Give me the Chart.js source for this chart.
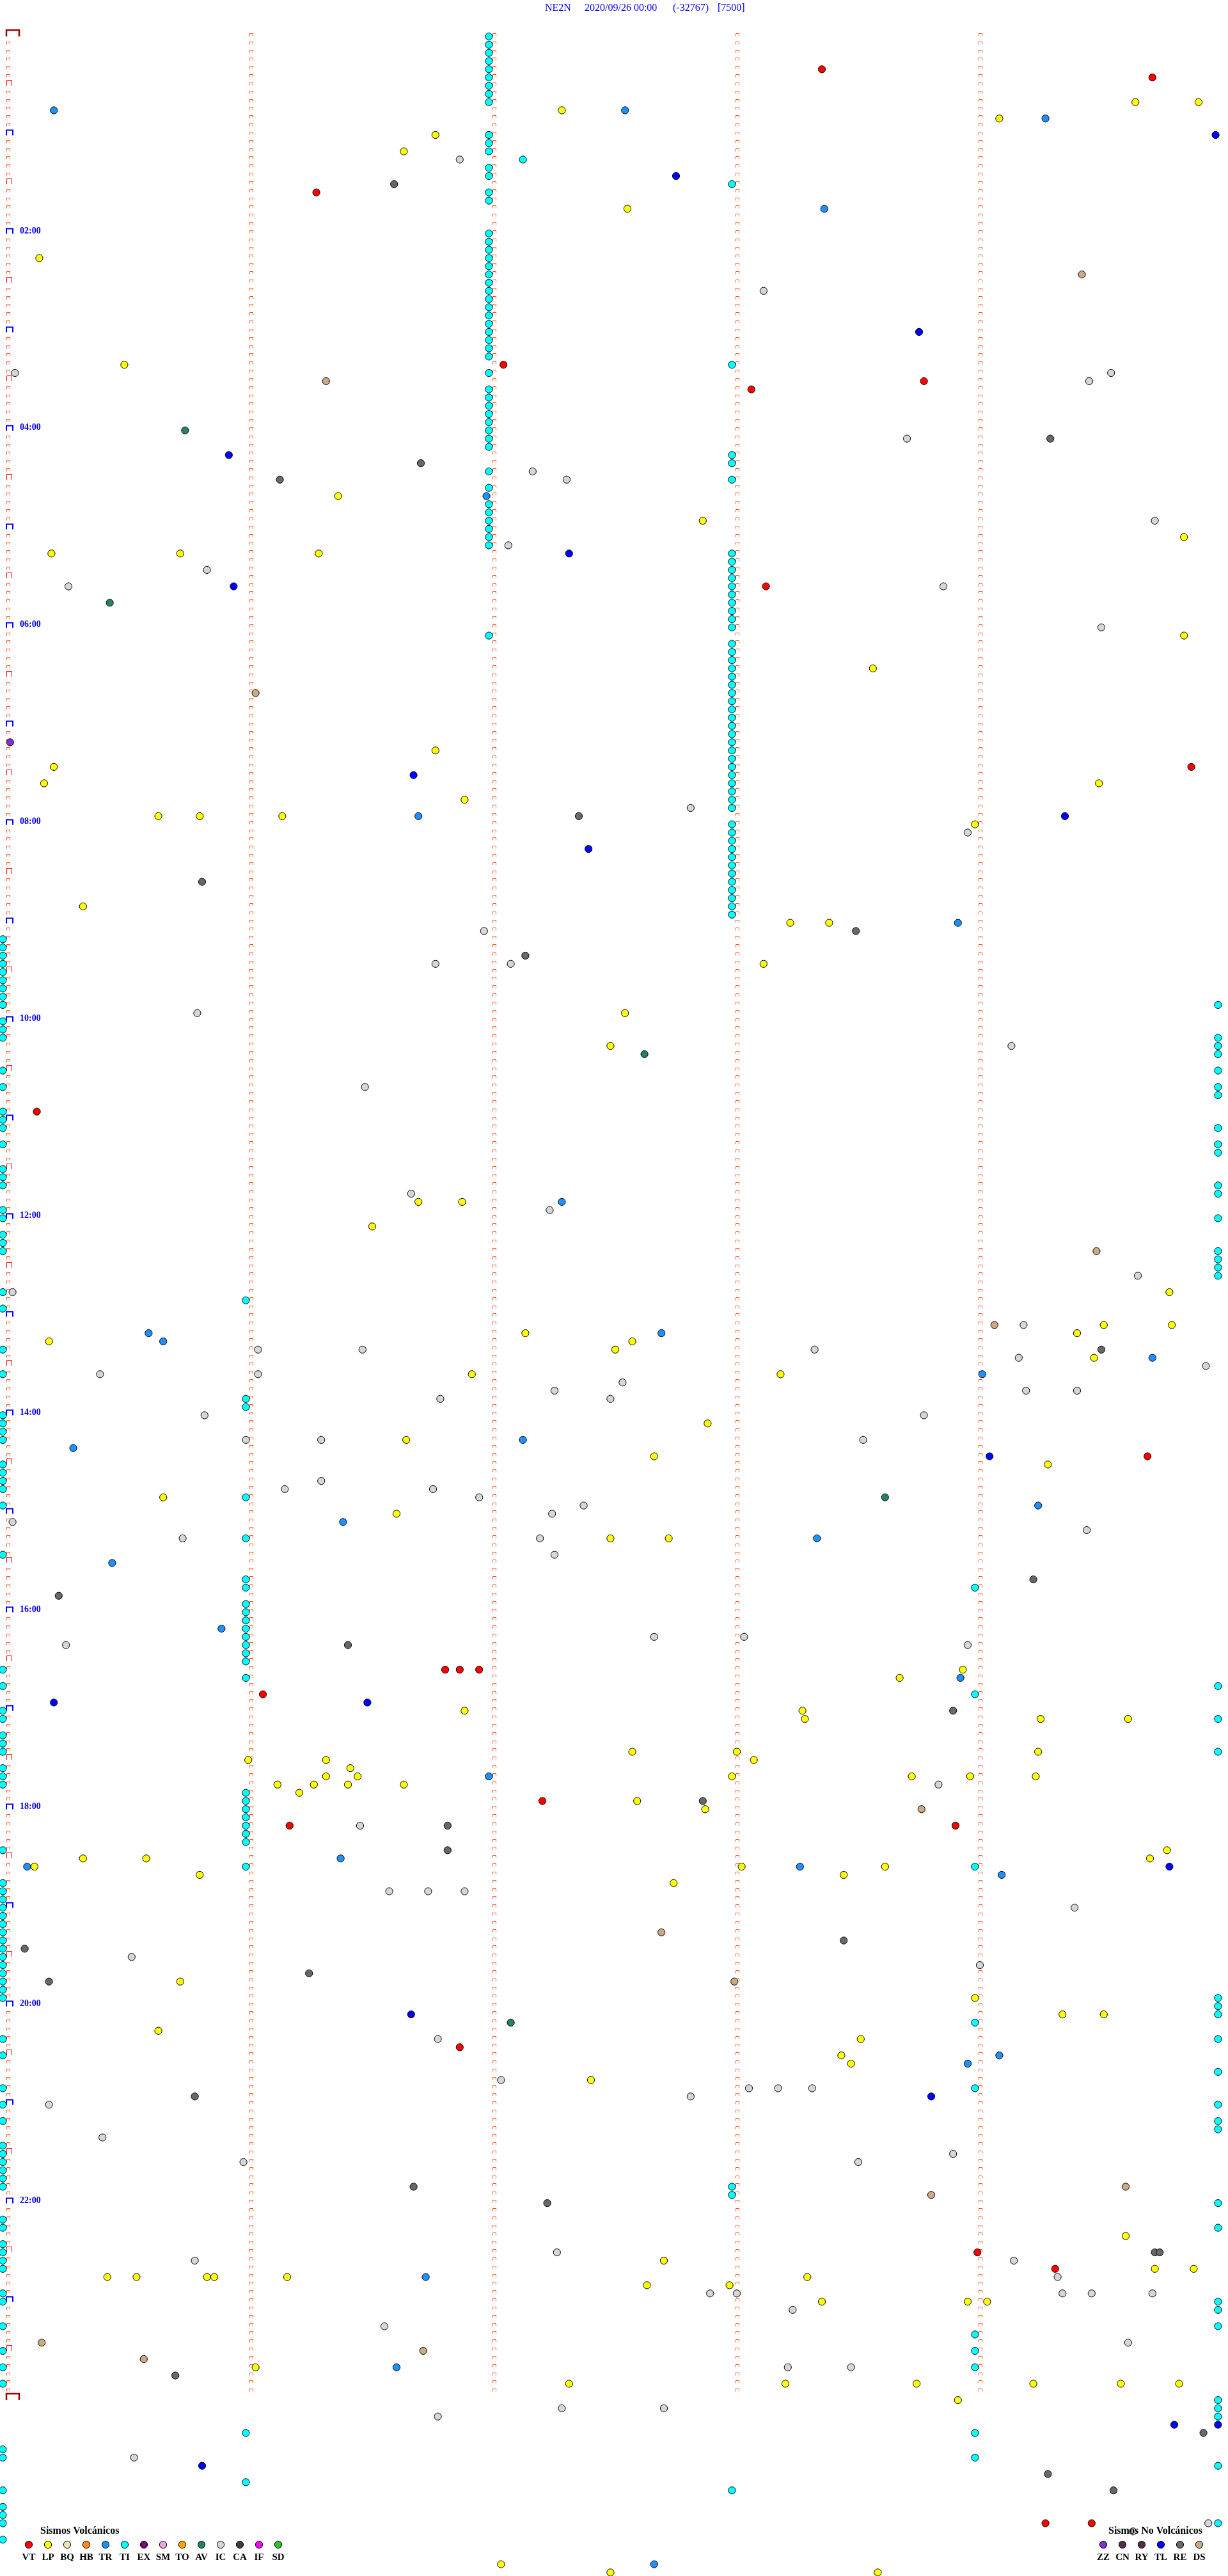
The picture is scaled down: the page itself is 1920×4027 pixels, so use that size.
<!DOCTYPE html>
<html>
<head>
<meta charset="utf-8">
<title>NE2N 2020/09/26</title>
<script src="https://cdn.jsdelivr.net/npm/chart.js@4.4.1/dist/chart.umd.min.js"></script>
<style>
  html, body { margin: 0; padding: 0; background: #fff; }
  canvas { display: block; }
</style>
</head>
<body>
<canvas id="heli" width="1920" height="4027"></canvas>
<script>
// cabecera del helicorder
const titleParts = ['NE2N', '2020/09/26 00:00', '(-32767)', '[7500]'];

// 24 horas, una linea cada 5 minutos
const lineCount = 288;
const minuteMarks = [0, 1, 2, 3, 4];
const hourLabels = ['02:00', '04:00', '06:00', '08:00', '10:00', '12:00', '14:00', '16:00', '18:00', '20:00', '22:00'];

const volcTypes = ['VT', 'LP', 'BQ', 'HB', 'TR', 'TI', 'EX', 'SM', 'TO', 'AV', 'IC', 'CA', 'IF', 'SD'];
const noVolcTypes = ['ZZ', 'CN', 'RY', 'TL', 'RE', 'DS'];

// eventos: [linea, minuto dentro de la linea]
const TI = [
  [0,1.98],[1,1.98],[2,1.98],[3,1.98],[4,1.98],[5,1.98],[6,1.98],[7,1.98],[8,1.98],[12,1.98],[13,1.98],[14,1.98],
  [16,1.98],[17,1.98],[19,1.98],[20,1.98],[24,1.98],[25,1.98],[26,1.98],[27,1.98],[28,1.98],[29,1.98],[30,1.98],
  [31,1.98],[32,1.98],[33,1.98],[34,1.98],[35,1.98],[36,1.98],[37,1.98],[38,1.98],[39,1.98],[41,1.98],[43,1.98],
  [44,1.98],[45,1.98],[46,1.98],[47,1.98],[48,1.98],[49,1.98],[50,1.98],[53,1.98],[55,1.98],[57,1.98],[58,1.98],
  [59,1.98],[60,1.98],[61,1.98],[62,1.98],[73,1.98],[15,2.12],
  [18,2.98],[40,2.98],[51,2.98],[52,2.98],[54,2.98],[63,2.98],[64,2.98],[65,2.98],[66,2.98],[67,2.98],[68,2.98],
  [69,2.98],[70,2.98],[71,2.98],[72,2.98],[74,2.98],[75,2.98],[76,2.98],[77,2.98],[78,2.98],[79,2.98],[80,2.98],
  [81,2.98],[82,2.98],[83,2.98],[84,2.98],[85,2.98],[86,2.98],[87,2.98],[88,2.98],[89,2.98],[90,2.98],[91,2.98],
  [92,2.98],[93,2.98],[94,2.98],[96,2.98],[97,2.98],[98,2.98],[99,2.98],[100,2.98],[101,2.98],[102,2.98],[103,2.98],
  [104,2.98],[105,2.98],[106,2.98],[107,2.98],[262,2.98],[263,2.98],[299,2.98],
  [110,-0.02],[111,-0.02],[112,-0.02],[113,-0.02],[114,-0.02],[115,-0.02],[116,-0.02],[117,-0.02],[118,-0.02],
  [120,-0.02],[121,-0.02],[122,-0.02],[126,-0.02],[128,-0.02],[131,-0.02],[132,-0.02],[133,-0.02],[135,-0.02],
  [138,-0.02],[139,-0.02],[140,-0.02],[143,-0.02],[144,-0.02],[146,-0.02],[147,-0.02],[148,-0.02],[153,-0.02],
  [155,-0.02],[160,-0.02],[163,-0.02],[168,-0.02],[169,-0.02],[170,-0.02],[171,-0.02],[174,-0.02],[175,-0.02],
  [176,-0.02],[177,-0.02],[179,-0.02],[185,-0.02],[199,-0.02],[201,-0.02],[204,-0.02],[205,-0.02],[207,-0.02],
  [208,-0.02],[209,-0.02],[211,-0.02],[212,-0.02],[213,-0.02],[221,-0.02],[225,-0.02],[226,-0.02],[227,-0.02],
  [228,-0.02],[229,-0.02],[230,-0.02],[231,-0.02],[232,-0.02],[233,-0.02],[234,-0.02],[235,-0.02],[236,-0.02],
  [237,-0.02],[238,-0.02],[239,-0.02],[244,-0.02],[246,-0.02],[250,-0.02],[252,-0.02],[254,-0.02],[257,-0.02],
  [258,-0.02],[259,-0.02],[260,-0.02],[261,-0.02],[262,-0.02],[266,-0.02],[267,-0.02],[269,-0.02],[270,-0.02],
  [271,-0.02],[272,-0.02],[275,-0.02],[276,-0.02],[279,-0.02],[282,-0.02],[284,-0.02],[286,-0.02],[294,-0.02],
  [295,-0.02],[299,-0.02],[301,-0.02],[302,-0.02],[303,-0.02],[305,-0.02],
  [154,0.98],[166,0.98],[167,0.98],[178,0.98],[183,0.98],[188,0.98],[189,0.98],[191,0.98],[192,0.98],[193,0.98],
  [194,0.98],[195,0.98],[196,0.98],[197,0.98],[198,0.98],[200,0.98],[214,0.98],[215,0.98],[216,0.98],[217,0.98],
  [218,0.98],[219,0.98],[220,0.98],[223,0.98],[292,0.98],[298,0.98],
  [189,3.98],[202,3.98],[223,3.98],[242,3.98],[250,3.98],[280,3.98],[282,3.98],[284,3.98],[292,3.98],[295,3.98],
  [118,4.98],[122,4.98],[123,4.98],[124,4.98],[126,4.98],[128,4.98],[129,4.98],[133,4.98],[135,4.98],[136,4.98],
  [140,4.98],[141,4.98],[144,4.98],[148,4.98],[149,4.98],[150,4.98],[151,4.98],[201,4.98],[205,4.98],[209,4.98],
  [239,4.98],[240,4.98],[241,4.98],[244,4.98],[248,4.98],[252,4.98],[254,4.98],[255,4.98],[264,4.98],[267,4.98],
  [276,4.98],[277,4.98],[279,4.98],[288,4.98],[289,4.98],[290,4.98],[296,4.98],[303,4.98]
];

const IC = [
  [15,1.86],[31,3.11],[41,0.03],[41,4.54],[42,4.45],[49,3.70],[53,2.16],[54,2.30],[59,4.72],[62,2.06],[65,0.82],
  [67,0.25],[67,3.85],[72,4.50],[94,2.81],[97,3.95],[109,1.96],[113,1.76],[113,2.07],[119,0.78],[123,4.13],
  [128,1.47],[141,1.66],[143,2.23],[151,4.65],[153,0.02],[157,4.18],[160,1.03],[160,1.46],[160,3.32],[161,4.16],
  [162,4.93],[163,0.38],[163,1.03],[164,2.53],[165,2.25],[165,4.19],[165,4.40],[166,1.78],[166,2.48],[168,0.81],
  [168,3.77],[171,0.98],[171,1.29],[171,3.52],[176,1.29],[177,1.14],[177,1.75],[178,1.94],[179,2.37],[180,2.24],
  [181,0.02],[182,4.44],[183,0.72],[183,2.19],[185,2.25],[195,2.66],[195,3.03],[196,0.24],[196,3.95],[213,3.83],
  [218,1.45],[226,1.57],[226,1.73],[226,1.88],[228,4.39],[234,0.51],[235,4.00],[244,1.77],[249,2.03],[250,3.05],
  [250,3.17],[250,3.31],[251,2.81],[252,0.17],[256,0.39],[258,3.89],[259,0.97],[259,3.50],[270,2.26],[271,0.77],
  [271,4.14],[273,4.32],[275,2.89],[275,3.00],[275,4.34],[275,4.46],[275,4.71],[277,3.23],[279,1.55],[281,4.61],
  [284,3.21],[284,3.47],[289,2.28],[289,2.70],[290,1.77],[295,0.52],[303,4.94],[304,4.63]
];

const RE = [
  [18,1.59],[49,4.29],[52,1.70],[54,1.12],[95,2.35],[103,0.80],[109,3.49],[112,2.13],[160,4.50],[188,4.22],
  [190,0.21],[196,1.40],[204,3.89],[215,2.86],[218,1.81],[221,1.81],[232,3.44],[233,0.07],[236,1.24],[237,0.17],
  [251,0.77],[262,1.67],[264,2.22],[270,4.72],[270,4.74],[285,0.69],[292,4.92],[297,4.28],[299,4.55]
];

const DS = [
  [29,4.42],[42,1.31],[80,1.02],[148,4.48],[157,4.06],[216,3.76],[231,2.69],[237,2.99],[262,4.60],[263,3.80],
  [281,0.14],[282,1.71],[283,0.56]
];

const AV = [[48,0.73],[69,0.42],[124,2.62],[178,3.61],[242,2.07]];

const LP = [
  [8,4.64],[8,4.90],[9,2.28],[10,4.08],[12,1.76],[14,1.63],[21,2.55],[27,0.13],[40,0.48],[56,1.36],[59,2.86],
  [61,4.84],[63,0.18],[63,0.71],[63,1.28],[73,4.84],[77,3.56],[87,1.76],[89,0.19],[91,0.15],[91,4.49],[93,1.88],
  [95,0.62],[95,0.79],[95,1.13],[96,3.98],[106,0.31],[108,3.22],[108,3.38],[113,3.11],[119,2.54],[123,2.48],
  [142,1.69],[142,1.87],[145,1.50],[153,4.78],[157,4.51],[157,4.79],[158,4.40],[158,2.13],[159,0.17],[159,2.57],
  [160,2.50],[161,4.47],[163,1.91],[163,3.18],[169,2.88],[171,1.64],[173,2.66],[174,4.28],[178,0.64],[180,1.60],
  [183,2.48],[183,2.72],[199,3.93],[200,3.67],[204,1.88],[204,3.27],[205,3.28],[205,4.25],[205,4.61],[209,2.57],
  [209,3.00],[209,4.24],[210,0.99],[210,1.31],[210,3.07],[211,1.41],[212,1.31],[212,1.44],[212,2.98],[212,3.72],
  [212,3.96],[212,4.23],[213,1.11],[213,1.26],[213,1.40],[213,1.63],[214,1.20],[215,2.59],[216,2.87],[221,4.77],
  [222,0.31],[222,0.57],[222,4.70],[223,0.11],[223,3.02],[223,3.61],[224,0.79],[224,3.44],[225,2.74],[237,0.71],
  [239,3.98],[241,4.34],[241,4.51],[243,0.62],[244,3.51],[246,3.43],[247,3.47],[249,2.40],[268,4.60],[271,2.70],
  [272,4.72],[272,4.88],[273,0.41],[273,0.53],[273,0.82],[273,0.85],[273,1.15],[273,3.29],[274,2.63],[274,2.97],
  [276,3.35],[276,3.95],[276,4.03],[284,1.02],[286,2.31],[286,3.20],[286,3.74],[286,4.22],[286,4.58],[286,4.82],
  [288,3.91],[308,2.03],[309,2.48],[309,3.58]
];

const TR = [
  [9,0.19],[9,2.54],[10,4.27],[21,3.36],[56,1.97],[95,1.69],[108,3.91],[142,2.28],[158,0.58],[158,2.69],
  [159,0.64],[161,4.71],[163,4.01],[171,2.12],[172,0.27],[179,4.24],[181,1.38],[183,3.33],[186,0.43],[194,0.88],
  [200,3.92],[212,1.98],[222,1.37],[223,0.08],[223,3.26],[224,4.09],[246,4.08],[247,3.95],[273,1.72],[284,1.60],
  [308,2.66]
];

const TL = [
  [12,4.97],[17,2.75],[36,3.75],[51,0.91],[63,2.31],[67,0.93],[90,1.67],[95,4.35],[99,2.39],[173,4.04],
  [203,0.19],[203,1.48],[223,4.78],[241,1.66],[251,3.80],[291,4.80],[291,4.98],[296,0.80]
];

const VT = [
  [4,3.35],[5,4.71],[19,1.27],[40,2.04],[42,3.77],[43,3.06],[67,3.12],[89,4.87],[131,0.12],[173,4.69],
  [199,1.80],[199,1.86],[199,1.94],[202,1.05],[215,2.20],[218,1.16],[218,3.90],[245,1.86],[270,3.99],
  [272,4.31],[303,4.27],[303,4.46]
];

const ZZ = [[86,0.01]];

const typeColors = {
  VT: '#ff0000', LP: '#ffff00', BQ: '#eee8aa', HB: '#ff8a1e', TR: '#1e90ff', TI: '#00ffff', EX: '#800080',
  SM: '#eea2e2', TO: '#ffa500', AV: '#2a8060', IC: '#d6d6d6', CA: '#4e3050', IF: '#ff00ff', SD: '#33c033',
  ZZ: '#8030d0', CN: '#4e3050', RY: '#552a4a', TL: '#0000ff', RE: '#686868', DS: '#c8aa84'
};

const events = { TI, IC, RE, DS, AV, LP, TR, TL, VT, ZZ };

// geometria de la pagina
const W = 1920, H = 4027;
const x0 = 12, pxPerMin = 380;
const y0 = 57, pxPerLine = 12.83;
const serif = '"Liberation Serif", "Times New Roman", serif';

const datasets = Object.keys(events).map(function(t) {
  return {
    label: t,
    data: events[t].map(function(e) { return { x: e[1], y: e[0] }; }),
    backgroundColor: typeColors[t],
    borderColor: '#000',
    borderWidth: 1,
    pointRadius: 5.6,
    clip: false
  };
});

function dot(ctx, x, y, color) {
  ctx.beginPath();
  ctx.arc(x, y, 5.6, 0, Math.PI * 2);
  ctx.fillStyle = color;
  ctx.fill();
  ctx.lineWidth = 1;
  ctx.strokeStyle = '#000';
  ctx.stroke();
}

function bracket(ctx, left, right, top, bottom, width, color) {
  ctx.beginPath();
  ctx.moveTo(left, bottom);
  ctx.lineTo(left, top);
  ctx.lineTo(right, top);
  ctx.lineTo(right, bottom);
  ctx.lineWidth = width;
  ctx.strokeStyle = color;
  ctx.stroke();
}

// marcas de minuto, media hora y hora
const heliMarks = {
  id: 'heliMarks',
  beforeDatasetsDraw(chart) {
    const ctx = chart.ctx, xs = chart.scales.x, ys = chart.scales.y;
    ctx.save();
    for (let r = 0; r <= lineCount; r++) {
      const py = Math.round(ys.getPixelForValue(r));
      if (r === 0 || r === lineCount) {
        const px = Math.round(xs.getPixelForValue(0));
        bracket(ctx, px - 2, px + 18, py - 10, py, 2.5, '#a00000');
        if (r === lineCount) continue;
      }
      minuteMarks.forEach(function(m) {
        const px = Math.round(xs.getPixelForValue(m));
        if (m === 0 && r === 0) return;
        if (m === 0 && r % 12 === 0) {
          bracket(ctx, px - 2, px + 8, py - 7.5, py + 0.5, 2, '#0000ff');
        } else if (m === 0 && r % 12 === 6) {
          bracket(ctx, px - 1.5, px + 6.5, py - 8.5, py, 1, '#ff0000');
        } else {
          bracket(ctx, px - 1.5, px + 3.5, py - 4.5, py - 0.5, 1, '#ff5214');
        }
      });
    }
    ctx.restore();
  },
  afterDatasetsDraw(chart) {
    const ctx = chart.ctx, xs = chart.scales.x, ys = chart.scales.y;
    ctx.save();
    ctx.textBaseline = 'middle';
    ctx.textAlign = 'left';

    // titulo
    ctx.fillStyle = '#0000ff';
    ctx.font = '16px ' + serif;
    const titleX = [852, 914, 1052, 1122];
    titleParts.forEach(function(t, i) { ctx.fillText(t, titleX[i], 13); });

    // etiquetas de hora cada dos horas
    ctx.font = 'bold 14px ' + serif;
    hourLabels.forEach(function(lbl, i) {
      const py = ys.getPixelForValue((i + 1) * 24);
      ctx.fillText(lbl, xs.getPixelForValue(0) + 19, py - 4);
    });

    // leyendas
    ctx.fillStyle = '#000';
    ctx.font = 'bold 16px ' + serif;
    ctx.fillText('Sismos Volcánicos', 63, 3957);
    ctx.fillText('Sismos No Volcánicos', 1733, 3957);
    ctx.textAlign = 'center';
    ctx.font = 'bold 15px ' + serif;
    volcTypes.forEach(function(t, i) {
      const cx = 45 + 30 * i;
      dot(ctx, cx, 3978, typeColors[t]);
      ctx.fillStyle = '#000';
      ctx.fillText(t, cx, 3998);
    });
    noVolcTypes.forEach(function(t, i) {
      const cx = 1725 + 30 * i;
      dot(ctx, cx, 3978, typeColors[t]);
      ctx.fillStyle = '#000';
      ctx.fillText(t, cx, 3998);
    });
    ctx.restore();
  }
};

new Chart(document.getElementById('heli').getContext('2d'), {
  type: 'scatter',
  data: { datasets: datasets },
  options: {
    responsive: false,
    animation: false,
    devicePixelRatio: 1,
    layout: { padding: 0, autoPadding: false },
    plugins: { legend: { display: false }, tooltip: { enabled: false } },
    scales: {
      x: { type: 'linear', display: false, min: -x0 / pxPerMin, max: (W - x0) / pxPerMin },
      y: { type: 'linear', display: false, reverse: true, min: -y0 / pxPerLine, max: (H - y0) / pxPerLine }
    }
  },
  plugins: [heliMarks]
});
</script>
</body>
</html>
